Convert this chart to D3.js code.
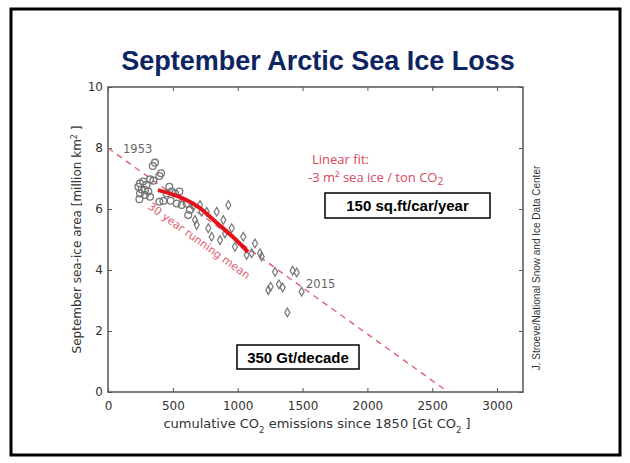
<!DOCTYPE html>
<html>
<head>
<meta charset="utf-8">
<script src="https://cdn.jsdelivr.net/npm/d3@7"></script>
<style>
  html, body { margin: 0; padding: 0; background: #fff; }
  svg { display: block; }
</style>
</head>
<body>
<svg id="chart" width="630" height="463"></svg>
<script>
// September Arctic sea-ice area vs cumulative CO2 emissions

// Pre-satellite years (1953 onward), circles
const earlyEmissions = [362, 345, 409, 396, 324, 350, 247, 272, 298, 234, 260, 285, 311, 247, 285, 242, 324, 396, 427, 473, 491, 517, 550, 452, 483, 530, 568, 607, 632, 619];
const earlyArea      = [7.52, 7.41, 7.17, 7.08, 6.97, 6.93, 6.84, 6.90, 6.79, 6.73, 6.64, 6.62, 6.57, 6.51, 6.46, 6.32, 6.40, 6.24, 6.26, 6.73, 6.57, 6.51, 6.57, 6.51, 6.27, 6.18, 6.13, 6.18, 5.97, 5.80];

// Satellite era (to 2015), diamonds
const lateEmissions = [658, 709, 722, 671, 684, 761, 773, 799, 838, 864, 889, 902, 928, 954, 979, 1043, 1069, 1108, 1133, 1172, 1185, 1288, 1424, 1455, 1236, 1254, 1318, 1347, 1383, 1493];
const lateArea      = [6.08, 6.13, 5.91, 5.64, 5.48, 5.91, 5.37, 5.09, 5.91, 4.98, 5.64, 5.20, 6.13, 5.37, 4.76, 5.09, 4.49, 4.55, 4.87, 4.55, 4.44, 3.94, 3.98, 3.92, 3.34, 3.45, 3.53, 3.43, 2.61, 3.29];

// 30 year running mean
const meanEmissions = [385, 555, 709, 840, 964, 1079];
const meanArea      = [6.62, 6.39, 6.03, 5.54, 5.08, 4.59];

// Linear fit: area = intercept + slope * emissions (million km², Gt CO2)
const fitIntercept = 8.0;
const fitSlope = -0.00305;

const xTicks = [0, 500, 1000, 1500, 2000, 2500, 3000];
const yTicks = [0, 2, 4, 6, 8, 10];

const svg = d3.select("#chart");

// slide frame
svg.append("rect")
  .attr("x", 11).attr("y", 9).attr("width", 609).attr("height", 446)
  .attr("fill", "#fff").attr("stroke", "#000").attr("stroke-width", 3);

// title
svg.append("text")
  .attr("x", 318).attr("y", 70)
  .attr("text-anchor", "middle")
  .attr("font-family", "Liberation Sans, Arial, sans-serif")
  .attr("font-weight", "bold").attr("font-size", 27)
  .attr("fill", "#0c2461")
  .text("September Arctic Sea Ice Loss");

const x = d3.scaleLinear().domain([0, 3200]).range([108, 523]);
const y = d3.scaleLinear().domain([0, 10]).range([392, 87]);

const axisColor = "#555";
const tickFont = "DejaVu Sans, sans-serif";

// plot frame
svg.append("rect")
  .attr("x", x(0)).attr("y", y(10))
  .attr("width", x(3200) - x(0)).attr("height", y(0) - y(10))
  .attr("fill", "none").attr("stroke", axisColor).attr("stroke-width", 1.5);

// axes with inward ticks
svg.append("g").attr("transform", `translate(0,${y(0)})`)
  .call(d3.axisBottom(x).tickValues(xTicks).tickSize(-4).tickPadding(9).tickFormat(d3.format("d")));
svg.append("g").attr("transform", `translate(${x(0)},0)`)
  .call(d3.axisLeft(y).tickValues(yTicks).tickSize(-4).tickPadding(5).tickFormat(d3.format("d")));
svg.append("g").attr("transform", `translate(0,${y(10)})`)
  .call(d3.axisTop(x).tickValues(xTicks).tickSize(-4).tickFormat(""));
svg.append("g").attr("transform", `translate(${x(3200)},0)`)
  .call(d3.axisRight(y).tickValues(yTicks).tickSize(-4).tickFormat(""));

svg.selectAll(".domain").remove();
svg.selectAll(".tick line").attr("stroke", axisColor).attr("stroke-width", 1);
svg.selectAll(".tick text")
  .attr("font-family", tickFont).attr("font-size", 12).attr("fill", "#333");

// axis titles
const ylab = svg.append("text")
  .attr("transform", `translate(81,${(y(0) + y(10)) / 2}) rotate(-90)`)
  .attr("text-anchor", "middle")
  .attr("font-family", tickFont).attr("font-size", 12).attr("fill", "#333");
ylab.append("tspan").text("September sea-ice area [million km");
ylab.append("tspan").attr("baseline-shift", "super").attr("font-size", 8).text("2");
ylab.append("tspan").text(" ]");

const xlab = svg.append("text")
  .attr("x", 317).attr("y", 428)
  .attr("text-anchor", "middle")
  .attr("font-family", tickFont).attr("font-size", 13).attr("fill", "#333");
xlab.append("tspan").text("cumulative CO");
xlab.append("tspan").attr("baseline-shift", "sub").attr("font-size", 8.5).text("2");
xlab.append("tspan").text("  emissions since 1850 [Gt CO");
xlab.append("tspan").attr("baseline-shift", "sub").attr("font-size", 8.5).text("2");
xlab.append("tspan").text(" ]");

// linear fit, dashed
const fitRed = "#e0606e";
const xZero = -fitIntercept / fitSlope;
svg.append("line")
  .attr("x1", x(0)).attr("y1", y(fitIntercept))
  .attr("x2", x(xZero)).attr("y2", y(0))
  .attr("stroke", fitRed).attr("stroke-width", 1.4)
  .attr("stroke-dasharray", "6,5");

// observations
const pointColor = "#777";
svg.append("g").selectAll("circle")
  .data(d3.zip(earlyEmissions, earlyArea))
  .join("circle")
  .attr("cx", d => x(d[0])).attr("cy", d => y(d[1]))
  .attr("r", 3.4)
  .attr("fill", "none").attr("stroke", pointColor).attr("stroke-width", 1.3);

const diamond = d3.symbol().type(d3.symbolDiamond).size(22);
svg.append("g").selectAll("path")
  .data(d3.zip(lateEmissions, lateArea))
  .join("path")
  .attr("transform", d => `translate(${x(d[0])},${y(d[1])})`)
  .attr("d", diamond)
  .attr("fill", "none").attr("stroke", pointColor).attr("stroke-width", 1.2);

// running mean
svg.append("path")
  .datum(d3.zip(meanEmissions, meanArea))
  .attr("d", d3.line().x(d => x(d[0])).y(d => y(d[1])).curve(d3.curveMonotoneX))
  .attr("fill", "none").attr("stroke", "#e3121b").attr("stroke-width", 4);

// year labels
const labelFont = { family: tickFont, size: 11.5, color: "#666" };
svg.append("text").attr("x", 123).attr("y", 153)
  .attr("font-family", labelFont.family).attr("font-size", labelFont.size).attr("fill", labelFont.color)
  .text("1953");
svg.append("text").attr("x", 306).attr("y", 288)
  .attr("font-family", labelFont.family).attr("font-size", labelFont.size).attr("fill", labelFont.color)
  .text("2015");

// rotated running-mean label, parallel to the fit line
const angle = Math.atan2(y(0) - y(fitIntercept), x(xZero) - x(0)) * 180 / Math.PI;
svg.append("text")
  .attr("transform", `translate(147,208) rotate(${angle})`)
  .attr("font-family", tickFont).attr("font-size", 11).attr("fill", fitRed)
  .text("30 year running mean");

// fit annotation
const annFont = "Open Sans, Noto Sans, sans-serif";
const annRed = "#d9485a";
svg.append("text").attr("x", 312).attr("y", 164)
  .attr("font-family", annFont).attr("font-size", 13).attr("fill", annRed)
  .text("Linear fit:");
const fitLine2 = svg.append("text").attr("x", 308).attr("y", 182)
  .attr("font-family", annFont).attr("font-size", 13).attr("fill", annRed);
fitLine2.append("tspan").text("-3 m² sea ice / ton CO");
fitLine2.append("tspan").attr("baseline-shift", "-3").attr("font-size", 10.5).text("2");

// boxed callouts
function callout(cx, cy, w, h, label) {
  svg.append("rect")
    .attr("x", cx - w / 2).attr("y", cy - h / 2).attr("width", w).attr("height", h)
    .attr("fill", "#fff").attr("stroke", "#000").attr("stroke-width", 1.5);
  svg.append("text")
    .attr("x", cx).attr("y", cy + 5.5)
    .attr("text-anchor", "middle")
    .attr("font-family", "Liberation Sans, Arial, sans-serif")
    .attr("font-weight", "bold").attr("font-size", 15).attr("fill", "#000")
    .text(label);
}
callout(407.5, 205.5, 165, 25, "150 sq.ft/car/year");
callout(298, 357, 122, 24, "350 Gt/decade");

// credit
svg.append("text")
  .attr("transform", "translate(540,268) rotate(-90)")
  .attr("text-anchor", "middle")
  .attr("font-family", "Liberation Sans, Arial, sans-serif")
  .attr("font-size", 10).attr("fill", "#333")
  .text("J.  Stroeve/National Snow and Ice Data Center");
</script>
</body>
</html>
